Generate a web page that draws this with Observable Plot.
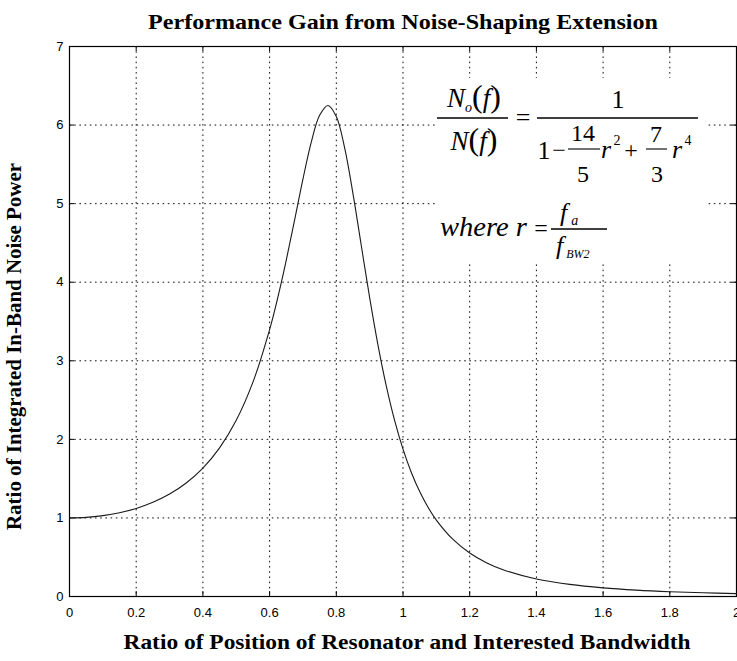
<!DOCTYPE html>
<html>
<head>
<meta charset="utf-8">
<script src="https://cdn.jsdelivr.net/npm/d3@7"></script>
<script src="https://cdn.jsdelivr.net/npm/@observablehq/plot@0.6"></script>
<style>
  html, body { margin: 0; padding: 0; background: #fff; }
  #chart svg { display: block; }
</style>
</head>
<body>
<div id="chart"></div>
<script>
// ---- data ----
const rValues = [0, 0.05, 0.1, 0.15, 0.2, 0.25, 0.3, 0.35, 0.4, 0.45, 0.5, 0.55, 0.6, 0.625, 0.65, 0.675, 0.7, 0.725, 0.75, 0.775, 0.8, 0.825, 0.85, 0.875, 0.9, 0.925, 0.95, 0.975, 1.0, 1.025, 1.05, 1.075, 1.1, 1.15, 1.2, 1.25, 1.3, 1.4, 1.5, 1.6, 1.7, 1.8, 1.9, 2.0];
const gainValues = [1.00, 1.007, 1.029, 1.066, 1.121, 1.199, 1.304, 1.445, 1.635, 1.892, 2.243, 2.728, 3.397, 3.813, 4.282, 4.793, 5.313, 5.783, 6.124, 6.25, 6.108, 5.709, 5.128, 4.464, 3.804, 3.200, 2.677, 2.238, 1.875, 1.578, 1.335, 1.136, 0.973, 0.726, 0.554, 0.431, 0.341, 0.223, 0.154, 0.110, 0.081, 0.061, 0.047, 0.037];
const xTickValues = [0, 0.2, 0.4, 0.6, 0.8, 1.0, 1.2, 1.4, 1.6, 1.8, 2.0];
const xTickLabels = ["0", "0.2", "0.4", "0.6", "0.8", "1", "1.2", "1.4", "1.6", "1.8", "2"];
const yTickValues = [0, 1, 2, 3, 4, 5, 6, 7];
const yTickLabels = ["0", "1", "2", "3", "4", "5", "6", "7"];
const titleText = "Performance Gain from Noise-Shaping Extension";
const xTitle = "Ratio of Position of Resonator and Interested Bandwidth";
const yTitle = "Ratio of Integrated In-Band Noise Power";

const curve = rValues.map((r, i) => ({r, gain: gainValues[i]}));
const xLabelMap = new Map(xTickValues.map((v, i) => [v, xTickLabels[i]]));
const yLabelMap = new Map(yTickValues.map((v, i) => [v, yTickLabels[i]]));

const W = 737, H = 661;
const mL = 69, mR = 1, mT = 46, mB = 65;
const innerW = W - mL - mR, innerH = H - mT - mB;
const serif = "'Liberation Serif', 'Times New Roman', serif";
const gridDash = "1.6,3.6";

const chart = Plot.plot({
  width: W,
  height: H,
  marginLeft: mL, marginRight: mR, marginTop: mT, marginBottom: mB,
  style: {fontFamily: "'Liberation Sans', Arial, sans-serif", fontSize: "13px", color: "#000", background: "#fff"},
  x: {domain: [0, 2]},
  y: {domain: [0, 7]},
  marks: [
    Plot.gridX(xTickValues, {stroke: "#111", strokeOpacity: 1, strokeDasharray: gridDash}),
    Plot.gridY(yTickValues, {stroke: "#111", strokeOpacity: 1, strokeDasharray: gridDash}),
    // inward tick marks (bottom, top, left, right)
    Plot.tickX(xTickValues, {x: d => d, insetTop: innerH - 5, stroke: "#000"}),
    Plot.tickX(xTickValues, {x: d => d, insetBottom: innerH - 5, stroke: "#000"}),
    Plot.tickY(yTickValues, {y: d => d, insetRight: innerW - 5, stroke: "#000"}),
    Plot.tickY(yTickValues, {y: d => d, insetLeft: innerW - 5, stroke: "#000"}),
    Plot.frame({stroke: "#000", strokeWidth: 1.2}),
    Plot.axisX(xTickValues, {anchor: "bottom", tickSize: 0, tickPadding: 11, tickFormat: d => xLabelMap.get(d), fontSize: 13, label: null}),
    Plot.axisY(yTickValues, {anchor: "left", tickSize: 0, tickPadding: 6, tickFormat: d => yLabelMap.get(d), fontSize: 13, label: null}),
    Plot.line(curve, {x: "r", y: "gain", stroke: "#1a1a1a", strokeWidth: 1.1, curve: "catmull-rom"}),
    Plot.text([titleText], {text: d => d, frameAnchor: "top", dy: -18, lineAnchor: "bottom", fontFamily: serif, fontWeight: "bold", fontSize: 22}),
    Plot.text([xTitle], {text: d => d, frameAnchor: "bottom", dx: 4, dy: 52, lineAnchor: "bottom", fontFamily: serif, fontWeight: "bold", fontSize: 22}),
    Plot.text([yTitle], {text: d => d, frameAnchor: "left", textAnchor: "middle", dx: -55, dy: 25, rotate: -90, lineAnchor: "middle", fontFamily: serif, fontWeight: "bold", fontSize: 20})
  ]
});

document.getElementById("chart").appendChild(chart);

const svg = d3.select(chart);
// stretch the bold titles to the widths seen in the reference
const widths = new Map([[titleText, 510], [xTitle, 567], [yTitle, 367]]);
svg.selectAll("text").each(function () {
  const t = this.textContent;
  if (widths.has(t)) {
    d3.select(this).attr("textLength", widths.get(t)).attr("lengthAdjust", "spacingAndGlyphs");
  }
});

// ---- equation annotation (white box over the grid) ----
const eq = svg.append("g").attr("font-family", serif).attr("fill", "#000");
eq.append("rect").attr("x", 435).attr("y", 78).attr("width", 270).attr("height", 184).attr("fill", "#fff");

function txt(x, y, s, size, opts = {}) {
  const t = eq.append("text").attr("x", x).attr("y", y).attr("font-size", size)
    .attr("text-anchor", opts.anchor || "middle").text(s);
  if (opts.italic) t.attr("font-style", "italic");
  return t;
}
function hline(x1, x2, y, w = 1.3) {
  eq.append("line").attr("x1", x1).attr("x2", x2).attr("y1", y).attr("y2", y)
    .attr("stroke", "#000").attr("stroke-width", w);
}

// N_o(f) / N(f)
const num = eq.append("text").attr("x", 474).attr("y", 107).attr("font-size", 27).attr("text-anchor", "middle");
num.append("tspan").attr("font-style", "italic").text("N");
num.append("tspan").attr("font-style", "italic").attr("font-size", 14).attr("dy", 5).text("o");
num.append("tspan").attr("dy", -5).attr("font-size", 32).text("(");
num.append("tspan").attr("font-style", "italic").text("f");
num.append("tspan").attr("font-size", 32).text(")");
hline(437, 508, 118);
const den = eq.append("text").attr("x", 474).attr("y", 150).attr("font-size", 27).attr("text-anchor", "middle");
den.append("tspan").attr("font-style", "italic").text("N");
den.append("tspan").attr("font-size", 32).text("(");
den.append("tspan").attr("font-style", "italic").text("f");
den.append("tspan").attr("font-size", 32).text(")");
txt(523, 126, "=", 26);

// 1 / (1 - 14/5 r^2 + 7/3 r^4)
txt(618, 108, "1", 26);
hline(537, 698, 118);
txt(544, 159, "1", 26);
txt(559, 158, "\u2212", 24);
txt(583, 141, "14", 24);
hline(568, 600, 149, 1.1);
txt(583, 182, "5", 24);
txt(606, 158, "r", 26, {italic: true});
txt(617, 145, "2", 14);
txt(631, 158, "+", 24);
txt(656, 142, "7", 24);
hline(646, 667, 149, 1.1);
txt(657, 182, "3", 24);
txt(677, 158, "r", 26, {italic: true});
txt(688, 145, "4", 14);

// where r = f_a / f_BW2
txt(440, 236, "where r", 27, {italic: true, anchor: "start"}).attr("textLength", 87).attr("lengthAdjust", "spacingAndGlyphs");
txt(541, 236, "=", 24);
const fa = eq.append("text").attr("x", 560).attr("y", 221).attr("font-size", 26).attr("text-anchor", "start");
fa.append("tspan").attr("font-style", "italic").text("f");
fa.append("tspan").attr("font-style", "italic").attr("font-size", 14).attr("dy", 4).attr("dx", 4).text("a");
hline(551, 607, 229);
const fb = eq.append("text").attr("x", 556).attr("y", 254).attr("font-size", 26).attr("text-anchor", "start");
fb.append("tspan").attr("font-style", "italic").text("f");
fb.append("tspan").attr("font-style", "italic").attr("font-size", 12).attr("dy", 4).attr("dx", 3).text("BW2");
</script>
</body>
</html>
